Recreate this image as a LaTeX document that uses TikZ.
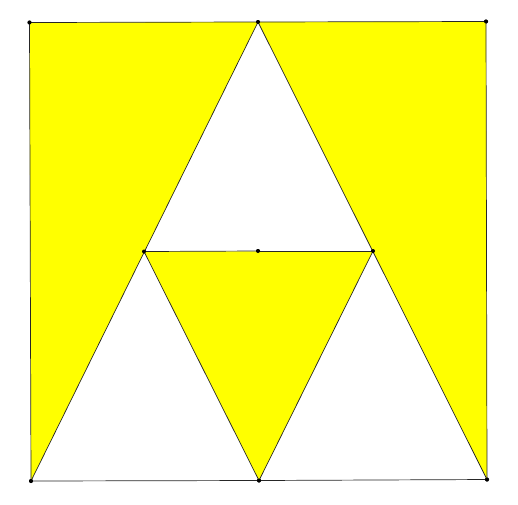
\documentclass[tikz,border=0pt]{standalone}
\usepackage{tikz}
\usetikzlibrary{calc}
\definecolor{fillyellow}{RGB}{255,255,0}
\newcommand{\dotvertex}[3]{\node[shape=circle,draw=none,fill=black,inner sep=0pt,minimum size=4pt] (#1) at ( #2 , #3 ) {};}
\newcommand{\yellowpatch}[3]{\fill[fillyellow] (#1.center) -- (#2.center) -- (#3.center) -- cycle;}
\newcommand{\edge}[2]{\draw[line width=0.7pt,black!85] (#1.center) -- (#2.center);}

\begin{document}
\begin{tikzpicture}[x=1pt,y=-1pt]
        \useasboundingbox (0,0) rectangle (518,504);
        % corners of the square
        \dotvertex{tl}{29.5}{22.5}
        \dotvertex{tm}{258}{22}
        \dotvertex{tr}{486}{21.5}
        \dotvertex{bl}{31}{481}
        \dotvertex{bm}{259}{480.5}
        \dotvertex{br}{487}{479.5}
        % middle row
        \dotvertex{ml}{144}{251.5}
        \dotvertex{mm}{258}{251}
        \dotvertex{mr}{373}{251}

        % yellow parts
        \yellowpatch{tl}{tm}{bl}
        \yellowpatch{tm}{tr}{br}
        \yellowpatch{ml}{mr}{bm}

        % square
        \edge{tl}{tm}
        \edge{tm}{tr}
        \edge{tr}{br}
        \edge{br}{bm}
        \edge{bm}{bl}
        \edge{bl}{tl}
        % big triangle
        \edge{bl}{tm}
        \edge{tm}{br}
        % small triangle
        \edge{ml}{mm}
        \edge{mm}{mr}
        \edge{ml}{bm}
        \edge{bm}{mr}

        % dots on top
        \dotvertex{tl}{29.5}{22.5}
        \dotvertex{tm}{258}{22}
        \dotvertex{tr}{486}{21.5}
        \dotvertex{bl}{31}{481}
        \dotvertex{bm}{259}{480.5}
        \dotvertex{br}{487}{479.5}
        \dotvertex{ml}{144}{251.5}
        \dotvertex{mm}{258}{251}
        \dotvertex{mr}{373}{251}
\end{tikzpicture}
\end{document}
